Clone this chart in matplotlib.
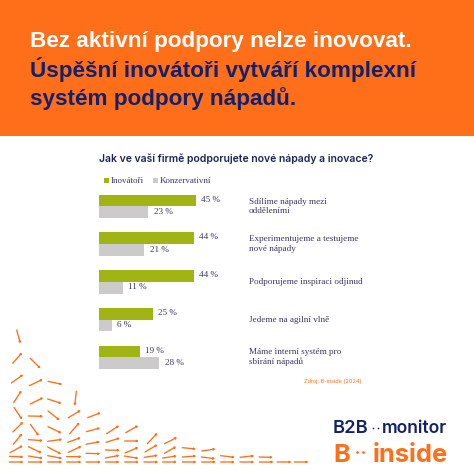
import numpy as np
import matplotlib.pyplot as plt

# Chart data
categories = [
    "Sdílíme nápady mezi\nodděleními",
    "Experimentujeme a testujeme\nnové nápady",
    "Podporujeme inspiraci odjinud",
    "Jedeme na agilní vlně",
    "Máme interní systém pro\nsbírání nápadů",
]
innovators = [45, 44, 44, 25, 19]
conservatives = [23, 21, 11, 6, 28]
series_names = ["Inovátoři", "Konzervativní"]

# Decorative arrows (x0, y0, x1, y1)
arrows_left = [
    (50, 30, 61, 70), (38, 130, 66, 98), (91, 115, 121, 145), (34, 189, 69, 164),
    (88, 197, 128, 178), (144, 184, 186, 193), (41, 248, 64, 212), (91, 252, 129, 233),
    (143, 237, 184, 250), (229, 214, 224, 257), (42, 262, 66, 298), (85, 288, 129, 289),
    (144, 273, 178, 300), (205, 293, 242, 271), (263, 293, 302, 278), (39, 336, 69, 306),
    (91, 313, 116, 347), (144, 320, 184, 339), (209, 341, 238, 308), (259, 335, 300, 324),
    (320, 341, 357, 317), (377, 338, 414, 317), (40, 373, 66, 341), (85, 359, 128, 362),
    (143, 364, 186, 358), (203, 367, 242, 353), (258, 373, 299, 365), (318, 367, 359, 354),
    (374, 363, 416, 363), (442, 371, 472, 339), (30, 398, 68, 377), (85, 380, 125, 399),
    (143, 381, 183, 402), (205, 397, 244, 379), (258, 400, 300, 401), (316, 390, 359, 391),
    (375, 399, 415, 382), (435, 396, 472, 374), (28, 409, 70, 411), (85, 408, 128, 415),
    (143, 407, 186, 415), (200, 410, 244, 410), (316, 414, 358, 406), (373, 408, 415, 415),
    (432, 412, 473, 406), (28, 426, 70, 426), (85, 426, 128, 426), (143, 426, 186, 426),
    (200, 426, 244, 426), (258, 426, 302, 426), (316, 426, 358, 426), (374, 426, 416, 426),
    (432, 426, 474, 426),
]
arrows_right = [
    (44, 131, 81, 112), (43, 160, 78, 140), (38, 174, 80, 168), (97, 143, 137, 147),
    (155, 153, 196, 147), (97, 171, 138, 168), (154, 171, 195, 176), (212, 167, 254, 172),
    (270, 172, 312, 167), (327, 171, 368, 172), (38, 186, 80, 186), (97, 186, 139, 186),
    (155, 186, 197, 186), (212, 186, 254, 186), (270, 186, 312, 186), (328, 186, 370, 186),
    (382, 186, 424, 186), (433, 186, 475, 186),
]

orange = "#FF6F1A"
navy = "#13216A"
green = "#A0B414"
gray = "#CCCACA"
text_color = "#3A3560"
W = 474

fig = plt.figure(figsize=(4.74, 4.74), dpi=100, facecolor="white")

# Page overlay in pixel coordinates
page = fig.add_axes([0, 0, 1, 1])
page.set_xlim(0, W)
page.set_ylim(W, 0)
page.axis("off")
page.axhspan(0, 136, color=orange, lw=0)

title_font = dict(family="Liberation Sans", weight="bold", size=16.2, va="baseline", ha="left")
page.text(30, 47, "Bez aktivní podpory nelze inovovat.", color="white", **title_font)
page.text(30, 76.5, "Úspěšní inovátoři vytváří komplexní", color=navy, **title_font)
page.text(30, 105, "systém podpory nápadů.", color=navy, **title_font)

page.text(99, 161.5, "Jak ve vaší firmě podporujete nové nápady a inovace?", family="Inter",
          weight=600, size=7.5, color="#1C2452", va="baseline")

# Legend
for x0, name, col in zip([104, 153], series_names, [green, gray]):
    page.add_patch(plt.Rectangle((x0, 178), 5, 5, color=col, lw=0))
    page.text(x0 + 7, 183, name, family="Liberation Serif", size=6.5,
              color=text_color, va="baseline")

# Bars
ax = fig.add_axes([99 / W, 1 - 372 / W, 215 / W, 180 / W])
ax.set_xlim(0, 100)
ax.set_ylim(372, 192)
ax.axis("off")
ax.patch.set_alpha(0)
centers = np.arange(len(categories)) * 37.7 + 206.5
bar_h = 11.8
ax.barh(centers - bar_h / 2, innovators, height=bar_h, color=green, lw=0)
ax.barh(centers + bar_h / 2, conservatives, height=bar_h, color=gray, lw=0)

label_font = dict(family="Liberation Serif", size=6.6, color=text_color, va="center")
for i, y in enumerate(centers):
    ax.annotate(f"{innovators[i]} %", (innovators[i], y - bar_h / 2 - 0.8), xytext=(4, 0),
                textcoords="offset points", **label_font)
    ax.annotate(f"{conservatives[i]} %", (conservatives[i], y + bar_h / 2 - 0.5), xytext=(4, 0),
                textcoords="offset points", **label_font)
    page.text(249, y, categories[i], family="Liberation Serif", size=6.6, color=text_color,
              va="center", linespacing=1.25)

page.text(362, 382, "Zdroj: B-inside (2024)", family="Inter", size=4.0, color=orange,
          ha="right", va="center")

# Arrow pattern
def draw_arrows(segments, ox, oy):
    for x0, y0, x1, y1 in segments:
        page.annotate("", xy=(ox + x1 / 3, oy + y1 / 3), xytext=(ox + x0 / 3, oy + y0 / 3),
                      arrowprops=dict(arrowstyle="-|>,head_length=0.08,head_width=0.05",
                                      color=orange, lw=0.95, shrinkA=0, shrinkB=0))

draw_arrows(arrows_left, 0, 320)
draw_arrows(arrows_right, 150, 400)

# Logos
page.text(333, 433, "B2B", family="Inter", weight=600, size=13.2, color=navy, va="baseline")
page.text(382, 433, "monitor", family="Inter", weight=600, size=12.6, color=navy, va="baseline")
page.text(333, 462, "B", family="Inter", weight=700, size=18.3, color=orange, va="baseline")
page.text(373, 462, "inside", family="Inter", weight=700, size=18.3, color=orange, va="baseline")
page.scatter([373, 378], [428, 428], s=1.5, color=navy, lw=0)
page.scatter([357, 363], [452, 452], s=4, color=orange, lw=0)

fig.savefig("out.png", dpi=100)
